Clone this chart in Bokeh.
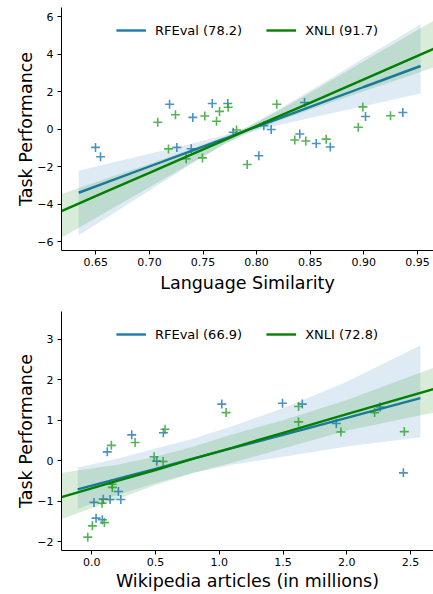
from bokeh.plotting import figure
from bokeh.layouts import column
from bokeh.models import SingleIntervalTicker, CustomJSTickFormatter, Range1d
from bokeh.embed import file_html
from bokeh.resources import INLINE

# ---------------- data: top panel (Language Similarity) ----------------
sim_rfeval = [0.6497, 0.6544, 0.7188, 0.7256, 0.7390, 0.7405, 0.7586, 0.7731, 0.7782,
              0.8067, 0.8136, 0.8021, 0.8403, 0.8556, 0.8687, 0.9016, 0.9364, 0.8447]
perf_rfeval_sim = [-0.97, -1.47, 1.33, -0.97, -1.04, 0.63, 1.37, 1.37, -0.16,
                   0.19, -0.02, -1.42, -0.26, -0.76, -0.95, 0.68, 0.89, 1.42]
sim_xnli = [0.7078, 0.7178, 0.7243, 0.7343, 0.7517, 0.7495, 0.7626, 0.7654, 0.7735,
            0.7813, 0.8188, 0.7912, 0.8356, 0.8459, 0.8649, 0.8991, 0.8948, 0.9249]
perf_xnli_sim = [0.37, -1.05, 0.77, -1.58, 0.70, -1.53, 0.42, 0.95, 1.17,
                 -0.04, 1.33, -1.88, -0.58, -0.63, -0.53, 1.19, 0.10, 0.72]

# regression fits and confidence bands
fit_sim_rfeval_x = [0.634, 0.66, 0.70, 0.74, 0.77, 0.79, 0.82, 0.86, 0.90, 0.953]
fit_sim_rfeval_y = [-3.39, -2.84, -1.99, -1.14, -0.51, -0.08, 0.55, 1.40, 2.25, 3.37]
fit_sim_rfeval_hi = [-2.21, -1.86, -1.31, -0.76, -0.32, 0.08, 1.04, 2.40, 3.78, 5.60]
fit_sim_rfeval_lo = [-5.65, -4.72, -3.27, -1.83, -0.78, -0.24, 0.21, 0.73, 1.23, 1.90]

fit_sim_xnli_x = [0.618, 0.66, 0.70, 0.74, 0.77, 0.79, 0.82, 0.86, 0.90, 0.965]
fit_sim_xnli_y = [-4.37, -3.32, -2.33, -1.33, -0.58, -0.08, 0.67, 1.66, 2.66, 4.28]
fit_sim_xnli_hi = [-3.46, -2.63, -1.85, -1.03, -0.40, 0.07, 0.97, 2.28, 3.62, 5.78]
fit_sim_xnli_lo = [-5.79, -4.40, -3.09, -1.77, -0.80, -0.23, 0.44, 1.24, 2.02, 3.28]

# ---------------- data: bottom panel (Wikipedia articles) ----------------
wiki_rfeval = [0.122, 0.314, 0.562, 1.020, 0.018, 0.034, 0.083, 0.091, 0.144,
               0.209, 0.228, 0.510, 1.496, 1.651, 1.918, 2.261, 2.444]
perf_rfeval_wiki = [0.22, 0.64, 0.69, 1.40, -1.03, -1.42, -1.46, -0.95, -0.96,
                    -0.76, -0.96, -0.01, 1.42, 1.40, 0.92, 1.33, -0.30]
wiki_xnli = [-0.031, 0.005, 0.081, 0.099, 0.154, 0.340, 0.159, 0.162, 0.489,
             0.560, 0.575, 1.054, 1.622, 1.622, 1.954, 2.218, 2.451]
perf_xnli_wiki = [-1.89, -1.61, -1.05, -1.53, 0.38, 0.45, -0.58, -0.66, 0.10,
                  -0.02, 0.78, 1.19, 1.34, 0.96, 0.71, 1.19, 0.72]

fit_wiki_rfeval_x = [-0.11, 0.2, 0.5, 0.8, 1.1, 1.5, 2.0, 2.577]
fit_wiki_rfeval_y = [-0.71, -0.45, -0.20, 0.06, 0.31, 0.64, 1.06, 1.55]
fit_wiki_rfeval_hi = [-0.17, 0.05, 0.30, 0.55, 0.85, 1.30, 1.95, 2.85]
fit_wiki_rfeval_lo = [-1.19, -0.85, -0.55, -0.30, -0.10, 0.10, 0.35, 0.58]

fit_wiki_xnli_x = [-0.237, 0.2, 0.5, 0.8, 1.1, 1.5, 2.0, 2.68]
fit_wiki_xnli_y = [-0.90, -0.50, -0.23, 0.05, 0.32, 0.69, 1.15, 1.77]
fit_wiki_xnli_hi = [-0.30, -0.10, 0.10, 0.35, 0.65, 1.00, 1.50, 2.30]
fit_wiki_xnli_lo = [-1.44, -0.95, -0.60, -0.30, -0.05, 0.30, 0.75, 1.19]

labels_sim = ["RFEval (78.2)", "XNLI (91.7)"]
labels_wiki = ["RFEval (66.9)", "XNLI (72.8)"]

BLUE = "#1f77b4"
GREEN = "#008000"
MBLUE = "#1f77b4"
MGREEN = "#2ca02c"
FONT = "DejaVu Sans"
WIDTH = 433


def make_fig(height, xr, yr, xint, yint, xdec, border_top, xlabel, xlab_standoff):
    p = figure(width=WIDTH, height=height, x_range=Range1d(*xr), y_range=Range1d(*yr),
               output_backend="svg", toolbar_location=None,
               min_border_left=61, min_border_right=0, min_border_top=border_top,
               min_border_bottom=0)
    p.outline_line_color = None
    p.grid.visible = False
    p.background_fill_color = "white"
    p.border_fill_color = "white"
    p.xaxis.ticker = SingleIntervalTicker(interval=xint)
    p.yaxis.ticker = SingleIntervalTicker(interval=yint)
    p.xaxis.formatter = CustomJSTickFormatter(
        code="return tick.toFixed(%d).replace('-', '\u2212');" % xdec)
    p.yaxis.formatter = CustomJSTickFormatter(
        code="return tick.toFixed(0).replace('-', '\u2212');")
    for ax in (p.xaxis, p.yaxis):
        ax.axis_line_color = "black"
        ax.axis_line_width = 1
        ax.major_tick_line_color = "black"
        ax.major_tick_out = 4
        ax.major_tick_in = 0
        ax.minor_tick_line_color = None
        ax.major_label_text_font = FONT
        ax.major_label_text_font_size = "11px"
        ax.major_label_text_color = "black"
        ax.axis_label_text_font = FONT
        ax.axis_label_text_font_size = "17.5px"
        ax.axis_label_text_font_style = "normal"
        ax.axis_label_text_color = "black"
    p.xaxis.major_label_standoff = 3
    p.yaxis.major_label_standoff = 4
    p.xaxis.axis_label_standoff = xlab_standoff
    p.yaxis.axis_label_standoff = -2
    p.xaxis.axis_label = xlabel
    p.yaxis.axis_label = "Task Performance"
    return p


def draw(p, xs, ys, fx, fy, flo, fhi, mcolor, lcolor, label):
    p.scatter(xs, ys, marker="cross", size=9, line_width=1.6,
              line_color=mcolor, line_alpha=0.8)
    p.varea(x=fx, y1=flo, y2=fhi, fill_color=lcolor, fill_alpha=0.15)
    p.line(fx, fy, line_color=lcolor, line_width=2.4, legend_label=label)


def style_legend(p):
    lg = p.legend[0]
    lg.location = "top_center"
    lg.orientation = "horizontal"
    lg.border_line_alpha = 0
    lg.background_fill_alpha = 0
    lg.label_text_font = FONT
    lg.label_text_font_size = "13px"
    lg.label_text_color = "black"
    lg.glyph_width = 30
    lg.label_standoff = 9
    lg.spacing = 24
    lg.margin = 3
    lg.padding = 10


p1 = make_fig(295, (0.618, 0.965), (-6.47, 6.49), 0.05, 2, 2, 7,
              "Language Similarity", 4)
draw(p1, sim_rfeval, perf_rfeval_sim, fit_sim_rfeval_x, fit_sim_rfeval_y,
     fit_sim_rfeval_lo, fit_sim_rfeval_hi, MBLUE, BLUE, labels_sim[0])
draw(p1, sim_xnli, perf_xnli_sim, fit_sim_xnli_x, fit_sim_xnli_y,
     fit_sim_xnli_lo, fit_sim_xnli_hi, MGREEN, GREEN, labels_sim[1])
style_legend(p1)

p2 = make_fig(298, (-0.237, 2.68), (-2.22, 3.69), 0.5, 1, 1, 16,
              "Wikipedia articles (in millions)", 2)
draw(p2, wiki_rfeval, perf_rfeval_wiki, fit_wiki_rfeval_x, fit_wiki_rfeval_y,
     fit_wiki_rfeval_lo, fit_wiki_rfeval_hi, MBLUE, BLUE, labels_wiki[0])
draw(p2, wiki_xnli, perf_xnli_wiki, fit_wiki_xnli_x, fit_wiki_xnli_y,
     fit_wiki_xnli_lo, fit_wiki_xnli_hi, MGREEN, GREEN, labels_wiki[1])
style_legend(p2)

layout = column(p1, p2, spacing=0)
open("out.html", "w").write(file_html(layout, INLINE))
